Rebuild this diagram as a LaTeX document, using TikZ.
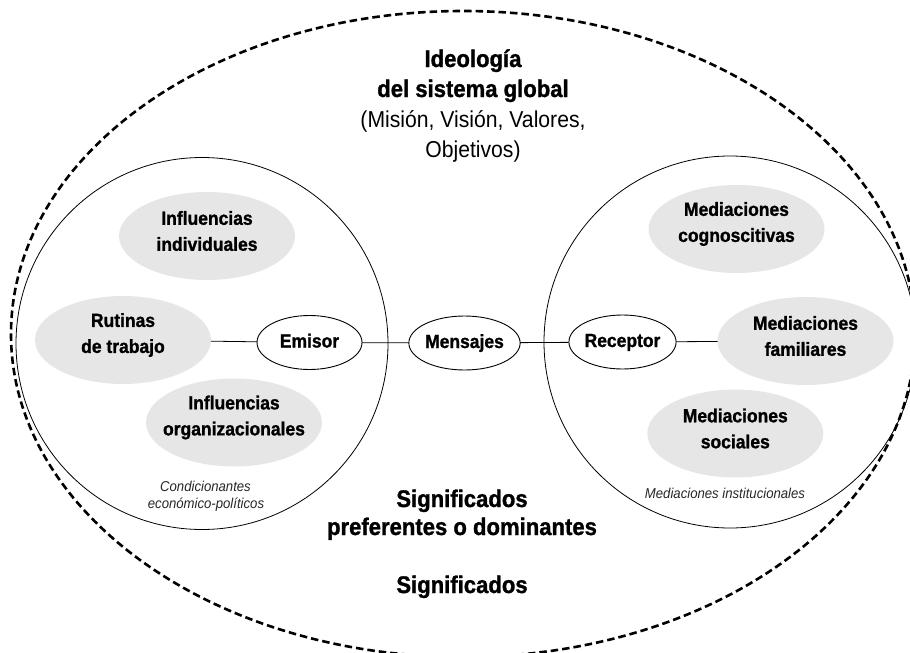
\documentclass[tikz,border=0pt]{standalone}
\usepackage{fontspec}
\setmainfont{Liberation Sans}[FakeStretch=0.92, BoldFeatures={FakeBold=1.2}]
\usetikzlibrary{shapes.geometric}
\definecolor{bubblegray}{HTML}{E6E6E6}
\begin{document}
\begin{tikzpicture}[x=1pt,y=-1pt,
  every node/.style={inner sep=0pt, outer sep=0pt},
  headline/.style={anchor=base, font=\fontsize{24}{30}\selectfont\bfseries},
  subline/.style={anchor=base, font=\fontsize{23}{30}\selectfont},
  noteline/.style={anchor=base, font=\fontsize{14.3}{17}\selectfont\itshape, text=black!85},
  zone/.style={circle, draw, line width=0.8pt, minimum size=372pt},
  bubble/.style={ellipse, fill=bubblegray, minimum width=176pt, minimum height=88pt,
    label={[align=center, font=\fontsize{19}{26}\selectfont\bfseries, yshift=5pt]center:#1}},
  actor/.style={ellipse, draw, line width=0.9pt, fill=white,
    minimum width=105pt, minimum height=54pt, text height=14pt, text depth=4pt,
    font=\fontsize{19}{26}\selectfont\bfseries},
  link/.style={line width=0.8pt}
]
\clip (0,0) rectangle (910,653);

% global system boundary
\draw[line width=2.6pt, dash pattern=on 7.5pt off 4pt] (463,334) ellipse [x radius=452, y radius=323];

% sender and receiver spheres
\node[zone] (sendzone) at (202,343.5) {};
\node[zone] (recvzone) at (730,342) {};

% influences on the sender
\node[bubble={Influencias\\individuales}] (indiv) at (207,236) {};
\node[bubble={Rutinas\\de trabajo}] (rutinas) at (123,340) {};
\node[bubble={Influencias\\organizacionales}] (organiz) at (234,422.5) {};

% mediations on the receiver
\node[bubble={Mediaciones\\cognoscitivas}] (cognos) at (736.5,229) {};
\node[bubble={Mediaciones\\familiares}] (famil) at (805.5,341) {};
\node[bubble={Mediaciones\\sociales}] (social) at (735.3,433.5) {};

% communication chain
\node[actor] (emisor) at (309.5,342.5) {Emisor};
\node[actor] (mensajes) at (464.5,343) {Mensajes};
\node[actor] (receptor) at (622.5,342) {Receptor};
\draw[link] (rutinas) -- (emisor);
\draw[link] (emisor) -- (mensajes);
\draw[link] (mensajes) -- (receptor);
\draw[link] (receptor) -- (famil);

% headings
\node[headline] (t1) at (473,67) {Ideología};
\node[headline] (t2) at (473,97) {del sistema global};
\node[subline] (t3) at (473,127) {(Misión, Visión, Valores,};
\node[subline] (t4) at (473,157) {Objetivos)};
\node[headline] (b1) at (462,507) {Significados};
\node[headline] (b2) at (462,535) {preferentes o dominantes};
\node[headline] (b3) at (462,593) {Significados};

% side notes
\node[noteline] (n1) at (205.5,491) {Condicionantes};
\node[noteline] (n2) at (206,508.3) {económico-políticos};
\node[noteline] (n3) at (725,498.3) {Mediaciones institucionales};
\end{tikzpicture}
\end{document}
